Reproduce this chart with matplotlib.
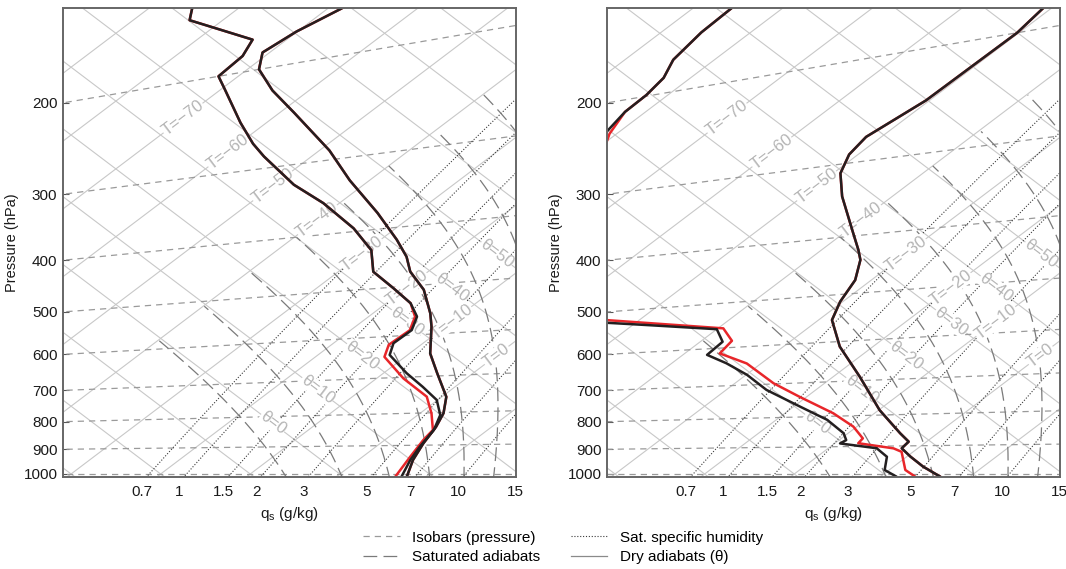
import numpy as np
import matplotlib
matplotlib.use('Agg')
import matplotlib.pyplot as plt
from matplotlib.lines import Line2D

plt.rcParams['font.family'] = ['Liberation Sans', 'DejaVu Sans']
plt.rcParams['mathtext.fontset'] = 'custom'
plt.rcParams['mathtext.rm'] = 'Liberation Sans'

# ---------------- data (pressure in hPa, temperature in degC) ----------------
# left panel
p_dew_L_black = [144, 154, 176, 187, 200, 212, 246, 270, 286, 325, 354, 395, 432, 469, 502, 533,
                 561, 589, 616, 643, 690, 727, 764, 807, 852, 905, 950, 1011, 1022]
T_dew_L_black = [-85.7, -83.7, -73.8, -72.5, -72.2, -69.6, -62.9, -58.4, -55.3, -47.8, -41.8, -34.7,
                 -29.5, -26.1, -21.4, -17.3, -14.6, -13.2, -13.3, -12.0, -7.4, -3.6, -0.1, 2.5, 4.0,
                 4.9, 5.8, 7.3, 7.6]
p_dew_L_red = [144, 154, 176, 187, 200, 212, 246, 270, 286, 325, 354, 395, 432, 469, 502, 533,
               561, 589, 619, 647, 703, 754, 802, 852, 883, 938, 1011, 1022]
T_dew_L_red = [-85.7, -83.7, -73.8, -72.5, -72.2, -69.6, -62.9, -58.4, -55.3, -47.8, -41.8, -34.7,
               -29.5, -26.1, -21.4, -17.3, -14.8, -13.4, -13.6, -12.3, -7.0, -1.7, 1.3, 3.9, 4.3,
               5.3, 6.6, 6.9]
p_T_L = [162, 166, 176, 187, 200, 220, 244, 289, 328, 376, 419, 448, 474, 509, 556, 584, 644, 693,
         756, 802, 843, 894, 950, 1011, 1022]
T_T_L = [-68.0, -68.5, -70.1, -70.8, -68.7, -64.1, -58.4, -48.9, -42.2, -34.3, -28.2, -24.6, -22.0,
         -17.8, -13.6, -11.5, -7.7, -4.0, 0.5, 2.6, 3.8, 4.8, 6.1, 7.9, 8.3]
# right panel
p_dew_R_black = [141, 146, 158, 174, 187, 199, 211, 226, 254, 328, 465, 512, 524, 536, 555, 585,
                 615, 639, 672, 716, 768, 811, 855, 878, 889, 907, 937, 985, 1010, 1023]
T_dew_R_black = [-86.5, -85.7, -85.5, -84.6, -83.0, -82.4, -82.3, -81.5, -79.7, -73.6, -63.5, -58.7,
                 -53.2, -48.1, -40.0, -37.5, -37.3, -33.9, -29.9, -25.5, -19.3, -14.3, -10.5, -9.2,
                 -9.4, -4.6, -2.2, -0.5, 1.8, 2.5]
p_dew_R_red = [141, 146, 158, 174, 187, 199, 211, 230, 241, 272, 343, 465, 508, 518, 554, 584, 613,
               642, 698, 739, 791, 834, 873, 889, 908, 920, 985, 1010, 1023]
T_dew_R_red = [-86.5, -85.7, -85.5, -84.6, -83.0, -82.4, -82.3, -80.8, -79.6, -77.5, -72.1, -63.5,
               -59.0, -53.6, -39.4, -36.6, -36.1, -31.6, -25.7, -20.8, -14.6, -10.4, -7.6, -7.4,
               -2.7, -1.3, 1.8, 3.9, 4.6]
p_T_R = [181, 186, 200, 220, 245, 273, 290, 311, 341, 396, 423, 440, 475, 514, 551, 612, 690, 785,
         858, 886, 908, 937, 973, 1010, 1022]
T_T_R = [-51.1, -50.9, -50.2, -50.3, -50.4, -51.7, -51.0, -49.2, -45.6, -38.9, -35.9, -34.2, -31.8,
         -30.3, -28.5, -23.7, -17.0, -9.9, -4.2, -2.0, -1.8, 0.4, 3.3, 6.7, 7.4]

pres_ticks = [200, 300, 400, 500, 600, 700, 800, 900, 1000]
q_ticks = [0.7, 1, 1.5, 2, 3, 5, 7, 10, 15]
q_tick_labels = ['0.7', '1', '1.5', '2', '3', '5', '7', '10', '15']
isobar_values = [1000, 900, 800, 700, 600, 500, 400, 300, 200, 100]
q_line_values = [0.7, 1, 1.5, 2, 3, 5, 7, 10, 15, 20]
sat_adiabat_thetae = [273, 283, 293, 303, 313, 323, 333, 343, 353, 363]
T_label_values = [-70, -60, -50, -40, -30, -20, -10, 0]
theta_label_values = [0, 10, 20, 30, 40, 50]

# ---------------- thermodynamics ----------------
KAPPA = 0.2857
T0 = 273.15
Rd, cp, Lv, EPS = 287.04, 1005.7, 2.501e6, 0.622


def theta_C(T, p):
    return (T + T0) * (1000.0 / p) ** KAPPA - T0


def tephi(T, p):
    th = theta_C(np.asarray(T, float), np.asarray(p, float))
    return T + th, th - T


def es(T):
    return 6.112 * np.exp(17.67 * T / (T + 243.5))


def T_from_q(q_gkg, p):
    q = q_gkg / 1000.0
    e = q * p / (0.622 + 0.378 * q)
    L = np.log(e / 6.112)
    return 243.5 * L / (17.67 - L)


def dTdp(T, p):
    TK = T + T0
    e = es(T)
    rs = EPS * e / (p - e)
    return (Rd * TK + Lv * rs) / (p * (cp + Lv * Lv * rs * EPS / (Rd * TK * TK)))


def integrate(T_start, plev):
    Ts = [T_start]
    for i in range(len(plev) - 1):
        p = plev[i]
        dp = plev[i + 1] - p
        T = Ts[-1]
        k1 = dTdp(T, p)
        k2 = dTdp(T + 0.5 * dp * k1, p + 0.5 * dp)
        Ts.append(T + dp * k2)
    return np.array(Ts)


def moist_adiabat(T1000):
    up = np.arange(1000, 149, -2.0)
    down = np.arange(1000, 1101, 2.0)
    Tu = integrate(T1000, up)
    Td = integrate(T1000, down)
    p = np.concatenate([down[::-1], up[1:]])
    T = np.concatenate([Td[::-1], Tu[1:]])
    return p, T


Tg = np.linspace(-40, 45, 4001)
rs_g = EPS * es(Tg) / (1000 - es(Tg))
thetae_g = (Tg + T0) * np.exp(Lv * rs_g / (cp * (Tg + T0)))

# ---------------- layout ----------------
W, H = 1066, 569
fig = plt.figure(figsize=(W / 100, H / 100), dpi=100)


def axpx(x0, y0, x1, y1):
    return fig.add_axes([x0 / W, 1 - y1 / H, (x1 - x0) / W, (y1 - y0) / H])


XL, XR = -61.8, 39.32
YB, YT = -0.885, 137.46
Q_TICK_SHIFT = -0.8

GRID_C = '#c8c8c8'
ISO_C = '#9a9a9a'
SAT_C = '#7a7a7a'
QS_C = '#3a3a3a'
LBL_C = '#b4b4b4'
RED = '#e8262a'
BLACK = '#231f20'
TXT_C = '#1a1a1a'

iso_ls = (0, (5, 4))
sat_ls = (0, (11, 5))
qs_ls = (0, (1, 1.6))


def draw(ax, red_curves, black_curves):
    pl = np.geomspace(1100, 20, 60)
    for T in range(-150, 61, 10):
        X, Y = tephi(T, pl)
        ax.plot(X, Y, color=GRID_C, lw=0.8, zorder=1)
    for th in range(-60, 211, 10):
        T = (th + T0) * (pl / 1000) ** KAPPA - T0
        X, Y = tephi(T, pl)
        ax.plot(X, Y, color=GRID_C, lw=0.8, zorder=1)
    for p in isobar_values:
        T = np.linspace(-160, 60, 60)
        X, Y = tephi(T, p * np.ones_like(T))
        ax.plot(X, Y, color=ISO_C, lw=0.9, ls=iso_ls, zorder=2)
    pq = np.geomspace(1100, 100, 200)
    for q in q_line_values:
        T = T_from_q(q, pq)
        m = T > -45
        X, Y = tephi(T[m], pq[m])
        ax.plot(X, Y, color=QS_C, lw=0.8, ls=qs_ls, zorder=2)
    for te in sat_adiabat_thetae:
        T1000 = np.interp(te, thetae_g, Tg)
        p, T = moist_adiabat(T1000)
        m = T >= -40
        X, Y = tephi(T[m], p[m])
        ax.plot(X, Y, color=SAT_C, lw=0.9, ls=sat_ls, zorder=2)
    for T in T_label_values:
        ax.text(T + 35, 35 - T, 'T=\u2212%d' % (-T) if T < 0 else 'T=%d' % T,
                rotation=45, transform_rotates_text=True, rotation_mode='anchor',
                ha='center', va='center', color=LBL_C, fontsize=12, zorder=3,
                bbox=dict(facecolor='white', edgecolor='none', pad=0.3))
    for th in theta_label_values:
        ax.text(th - 15, th + 15, '\u03b8=%d' % th,
                rotation=-45, transform_rotates_text=True, rotation_mode='anchor',
                ha='center', va='center', color=LBL_C, fontsize=12, zorder=3,
                bbox=dict(facecolor='white', edgecolor='none', pad=0.3))
    for (p, T) in red_curves:
        X, Y = tephi(np.array(T), np.array(p))
        ax.plot(X, Y, color=RED, lw=1.8, zorder=5, solid_joinstyle='round')
    for (p, T) in black_curves:
        X, Y = tephi(np.array(T), np.array(p))
        ax.plot(X, Y, color=BLACK, lw=1.8, zorder=6, solid_joinstyle='round')

    ax.set_xlim(XL, XR)
    ax.set_ylim(YB, YT)
    f = (1000.0 / np.array(pres_ticks)) ** KAPPA
    ax.set_yticks((f - 1) / (f + 1) * (XL + 2 * T0))
    ax.set_yticklabels([str(p) for p in pres_ticks])
    xt = [2 * (T_from_q(q, 1000.0) + Q_TICK_SHIFT) for q in q_ticks]
    ax.set_xticks(xt)
    ax.set_xticklabels(q_tick_labels)
    ax.tick_params(axis='y', direction='in', length=4, width=0.8, color='#555555',
                   labelsize=11, pad=4, labelcolor=TXT_C)
    ax.tick_params(axis='x', length=0, labelsize=11, pad=6, labelcolor=TXT_C)
    ax.set_ylabel('Pressure (hPa)', fontsize=10.5, labelpad=3, color=TXT_C)
    ax.set_xlabel(r'q$_\mathrm{s}$ (g/kg)', fontsize=11, labelpad=4, color=TXT_C)
    for s in ax.spines.values():
        s.set_color('#666666')
        s.set_linewidth(1.4)
        s.set_zorder(10)


axL = axpx(63, 8, 516, 477)
axR = axpx(607, 8, 1060, 477)
draw(axL, [(p_dew_L_red, T_dew_L_red), (p_T_L, T_T_L)],
     [(p_dew_L_black, T_dew_L_black), (p_T_L, T_T_L)])
draw(axR, [(p_dew_R_red, T_dew_R_red), (p_T_R, T_T_R)],
     [(p_dew_R_black, T_dew_R_black), (p_T_R, T_T_R)])

handles = [Line2D([], [], color=ISO_C, lw=0.9, ls=iso_ls),
           Line2D([], [], color=SAT_C, lw=0.9, ls=sat_ls),
           Line2D([], [], color=QS_C, lw=0.8, ls=qs_ls),
           Line2D([], [], color='#8a8a8a', lw=0.9)]
labels = ['Isobars (pressure)', 'Saturated adiabats', 'Sat. specific humidity',
          'Dry adiabats (\u03b8)']
fig.legend(handles, labels, ncol=2, loc='center', bbox_to_anchor=(0.528, 0.038),
           frameon=False, fontsize=11, handlelength=2.4, columnspacing=2.0,
           handletextpad=0.8, labelspacing=0.35)

fig.savefig('out.png', dpi=100)
